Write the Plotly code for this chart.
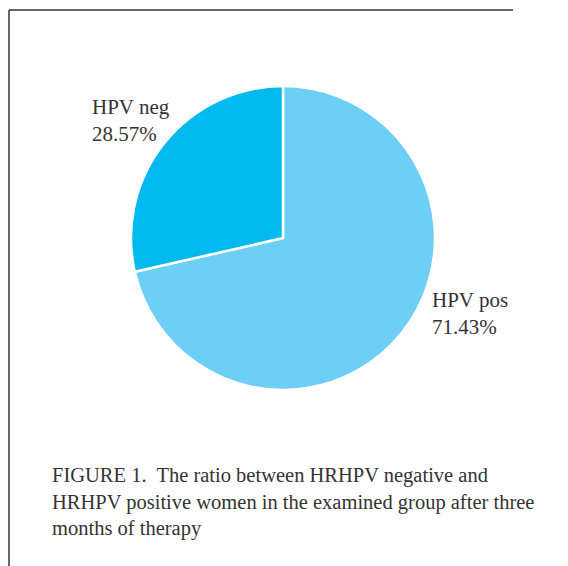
import plotly.graph_objects as go

labels = ["HPV pos", "HPV neg"]
values = [71.43, 28.57]
colors = ["#6DCFF6", "#00B9F1"]
caption_lines = [
    "FIGURE 1.  The ratio between HRHPV negative and",
    "HRHPV positive women in the examined group after three",
    "months of therapy",
]

W, H = 568, 566
OFF = 8  # page body margin
cx, cy, r = 283 - OFF, 238 - OFF, 152

fig = go.Figure(go.Pie(
    labels=labels, values=values, sort=False, direction="clockwise", rotation=0,
    marker=dict(colors=colors, line=dict(color="white", width=2.5)),
    textinfo="none", hoverinfo="label+percent", showlegend=False,
    domain=dict(x=[(cx - r) / W, (cx + r) / W], y=[1 - (cy + r) / H, 1 - (cy - r) / H]),
))

font = dict(family="Liberation Serif", size=21, color="#333333")


def px(x):
    return (x - OFF) / W


def py(y):
    return 1 - (y - OFF) / H


fig.add_annotation(x=px(90), y=py(93), xref="paper", yref="paper", xanchor="left", yanchor="top",
                   text=f"{labels[1]}<br>{values[1]:.2f}%", showarrow=False, align="left", font=font)
fig.add_annotation(x=px(430), y=py(286), xref="paper", yref="paper", xanchor="left", yanchor="top",
                   text=f"{labels[0]}<br>{values[0]:.2f}%", showarrow=False, align="left", font=font)
fig.add_annotation(x=px(50), y=py(462), xref="paper", yref="paper", xanchor="left", yanchor="top",
                   text="<br>".join(caption_lines), showarrow=False, align="left",
                   font=dict(family="Liberation Serif", size=20.5, color="#333333"))

fig.add_shape(type="line", xref="paper", yref="paper", x0=px(9), x1=px(513), y0=py(10), y1=py(10),
              line=dict(color="#333333", width=1.5))
fig.add_shape(type="line", xref="paper", yref="paper", x0=px(9), x1=px(9), y0=py(10), y1=0,
              line=dict(color="#333333", width=1.5))

fig.update_layout(width=W, height=H, margin=dict(l=0, r=0, t=0, b=0),
                  paper_bgcolor="white", plot_bgcolor="white")
fig.write_html("out.html")
